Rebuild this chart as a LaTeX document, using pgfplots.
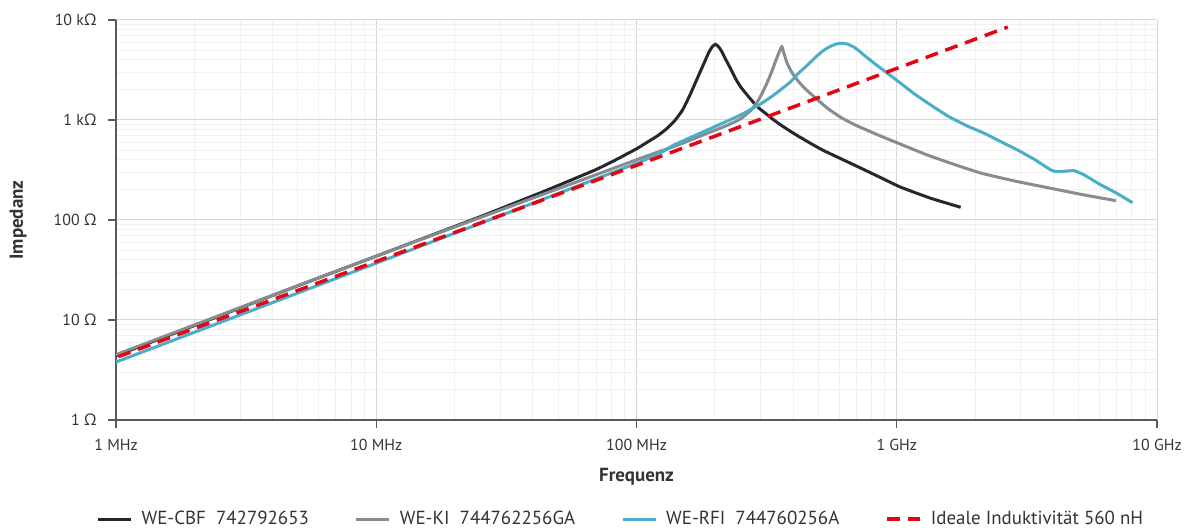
\documentclass[border=0pt]{standalone}
\usepackage{fontspec}
\setmainfont{PT Sans}
\newfontfamily\omegafont{Open Sans}
\newcommand\Ohm{{\omegafont Ω}}
\usepackage{pgfplots}
\pgfplotsset{compat=1.18}

\definecolor{cbf}{HTML}{22282E}
\definecolor{ki}{HTML}{858C92}
\definecolor{rfi}{HTML}{4BADC8}
\definecolor{ideal}{HTML}{E30613}
\definecolor{axisgray}{HTML}{5A5A5A}
\definecolor{labelgray}{HTML}{333333}

\begin{document}
\begin{tikzpicture}
\begin{axis}[
  scale only axis, width=1041bp, height=400bp,
  xmode=log, ymode=log,
  xmin=1e6, xmax=1e10, ymin=1, ymax=1e4,
  axis x line*=bottom, axis y line*=left,
  axis line style={axisgray, line width=1.2bp},
  xtick={1e6,1e7,1e8,1e9,1e10},
  xticklabels={1 MHz,10 MHz,100 MHz,1 GHz,10 GHz},
  ytick={1,10,100,1000,10000},
  yticklabels={1 \Ohm,10 \Ohm,100 \Ohm,1 k\Ohm,10 k\Ohm},
  minor xtick={2e6,3e6,4e6,5e6,6e6,7e6,8e6,9e6,2e7,3e7,4e7,5e7,6e7,7e7,8e7,9e7,2e8,3e8,4e8,5e8,6e8,7e8,8e8,9e8,2e9,3e9,4e9,5e9,6e9,7e9,8e9,9e9},
  minor ytick={2,3,4,5,6,7,8,9,20,30,40,50,60,70,80,90,200,300,400,500,600,700,800,900,2000,3000,4000,5000,6000,7000,8000,9000},
  major tick length=8bp, minor tick length=0pt,
  tick align=outside,
  tick style={axisgray, line width=1.2bp},
  grid=both,
  major grid style={draw=black!16, line width=1bp},
  minor grid style={draw=black!6, line width=1bp},
  xticklabel style={font=\fontsize{16}{19}\selectfont, text=labelgray, yshift=-8bp},
  yticklabel style={font=\fontsize{16}{19}\selectfont, text=labelgray, xshift=-8bp},
  every axis x label/.style={at={(axis description cs:0.5,-0.1425)}, anchor=center},
  every axis y label/.style={at={(axis description cs:-0.094,0.5)}, rotate=90, anchor=center},
  label style={font=\bfseries\fontsize{19}{22}\selectfont, text=labelgray},
  xlabel={Frequenz}, ylabel={Impedanz},
  legend columns=4,
  legend cell align=left,
  legend image code/.code={\draw[#1] (0bp,0bp) -- (33bp,0bp);},
  legend style={at={(axis description cs:0.485,-0.2475)}, anchor=center,
    draw=none, fill=none, font=\fontsize{19}{22}\selectfont, text=labelgray,
    /tikz/every odd column/.append style={column sep=7bp},
    /tikz/every even column/.append style={column sep=44bp}},
]
\coordinate (sw) at (rel axis cs:0,0);

\addplot[cbf, line width=3bp, smooth, tension=0.3] coordinates {
  (1e6,4.4) (2e6,8.8) (5e6,22) (1e7,43.5) (2.51e7,108) (4.55e7,200)
  (6.1e7,275) (7e7,320) (8.17e7,390) (1e8,515) (1.1e8,600) (1.2e8,690)
  (1.3e8,810) (1.4e8,980) (1.5e8,1250) (1.6e8,1750) (1.7e8,2500)
  (1.8e8,3500) (1.9e8,4800) (1.96e8,5450) (2.01e8,5700) (2.06e8,5450)
  (2.12e8,4900) (2.2e8,4050) (2.3e8,3250) (2.4e8,2600) (2.51e8,2150)
  (2.7e8,1700) (2.91e8,1360) (3.15e8,1150) (3.37e8,1000) (3.58e8,893)
  (4e8,740) (4.54e8,608) (5.2e8,499) (6.1e8,410) (7.5e8,318)
  (8.68e8,265) (1.035e9,213) (1.35e9,165) (1.76e9,134)};
\addlegendentry{WE-CBF\ \ 742792653}

\addplot[ki, line width=3bp, smooth, tension=0.3] coordinates {
  (1e6,4.5) (1e7,43.5) (1.036e8,414) (1.39e8,541) (1.87e8,736)
  (2.2e8,870) (2.5e8,1020) (2.75e8,1250) (2.95e8,1600) (3.15e8,2250)
  (3.3e8,3000) (3.45e8,4100) (3.58e8,5200) (3.62e8,5400) (3.68e8,4700)
  (3.79e8,3700) (3.95e8,3000) (4.15e8,2500) (4.45e8,2050) (4.81e8,1711)
  (5.4e8,1320) (6.1e8,1060) (7e8,880) (8.68e8,690) (1.006e9,590)
  (1.3e9,450) (1.61e9,370) (2.1e9,295) (2.91e9,242) (4e9,205)
  (5.25e9,178) (6.95e9,156)};
\addlegendentry{WE-KI\ \ 744762256GA}

\addplot[rfi, line width=3bp, smooth, tension=0.3] coordinates {
  (1e6,3.8) (1e7,37) (1.036e8,383) (1.39e8,562) (1.87e8,794)
  (2.51e8,1122) (3e8,1450) (3.37e8,1778) (3.91e8,2415) (4.2e8,2950)
  (4.54e8,3548) (4.9e8,4300) (5.25e8,5000) (5.6e8,5500) (5.9e8,5780)
  (6.19e8,5848) (6.5e8,5720) (6.86e8,5333) (7.15e8,4932) (7.48e8,4457)
  (8e8,3873) (8.68e8,3296) (1e9,2495) (1.17e9,1820) (1.35e9,1413)
  (1.57e9,1096) (1.85e9,880) (2.17e9,736) (2.5e9,610) (2.91e9,501)
  (3.4e9,400) (3.91e9,316) (4.15e9,304) (4.45e9,308) (4.81e9,311)
  (5.25e9,282) (6.09e9,224) (7e9,185) (8.05e9,149)};
\addlegendentry{WE-RFI\ \ 744760256A}

\addplot[ideal, line width=3.5bp, dash pattern=on 13bp off 8bp] coordinates {
  (1.02e6,4.3) (1e8,352) (2.67e9,8500)};
\addlegendentry{Ideale Induktivität 560 nH}
\end{axis}
\pgfresetboundingbox
\path[use as bounding box] (sw) ++(-116bp,-108bp) rectangle ++(1192bp,528bp);
\end{tikzpicture}
\end{document}
